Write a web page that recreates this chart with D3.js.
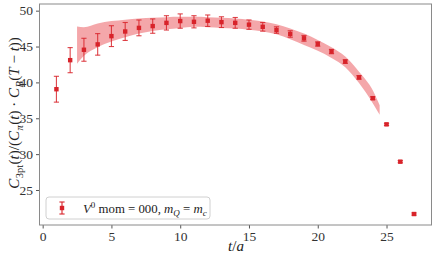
<!DOCTYPE html>
<html lang="en">
<head>
<meta charset="UTF-8">
<title>C3pt ratio</title>
<style>
  body { margin: 0; background: #fff; }
  svg { display: block; font-family: "Liberation Serif", "DejaVu Serif", serif; }
</style>
</head>
<body>
<svg id="chart" width="436" height="261"></svg>
<script src="https://d3js.org/d3.v7.min.js"></script>
<script>
// data points
const tVals = d3.range(1, 28);
const ratio = [39.05, 43.1, 44.55, 45.3, 46.45, 47.1, 47.6, 47.85, 48.3, 48.55, 48.45, 48.6, 48.4, 48.3,
               48.05, 47.75, 47.3, 46.75, 46.15, 45.35, 44.3, 42.9, 40.7, 37.8, 34.15, 28.95, 21.65];
const ratioErr = [1.8, 1.75, 1.6, 1.5, 1.45, 1.25, 1.1, 1.0, 1.0, 1.0, 0.85, 0.8, 0.75, 0.75,
                  0.65, 0.6, 0.45, 0.45, 0.4, 0.3, 0.3, 0.25, 0.25, 0.2, 0.15, 0.15, 0.15];

// fit band
const bandT  = [2.5, 3, 4, 5, 6, 7, 8, 9, 10, 11, 12, 13, 14, 15, 16, 17, 18, 19, 20, 21, 22, 23, 24, 24.5];
const bandHi = [47.8, 47.7, 48.2, 48.55, 48.75, 48.9, 49.0, 49.1, 49.15, 49.15, 49.1, 49.0, 48.9, 48.75,
                48.5, 48.1, 47.5, 46.8, 45.9, 44.9, 43.6, 41.5, 38.9, 36.8];
const bandLo = [42.6, 43.7, 44.9, 45.7, 46.3, 46.8, 47.15, 47.4, 47.6, 47.75, 47.7, 47.6, 47.5, 47.35,
                47.1, 46.7, 46.0, 45.2, 44.4, 43.4, 42.1, 39.9, 37.1, 35.5];

const xTicks = [0, 5, 10, 15, 20, 25];
const yTicks = [25, 30, 35, 40, 45, 50];

const red = "#d8232a";
const serif = "'Liberation Serif', 'DejaVu Serif', serif";
const svg = d3.select("#chart");

const x = d3.scaleLinear().domain([-0.23, 28.27]).range([39.5, 431.5]);
const y = d3.scaleLinear().domain([20.12, 50.93]).range([225, 4]);

// band
const band = bandT.map((t, i) => ({ t, lo: bandLo[i], hi: bandHi[i] }));
svg.append("path")
    .datum(band)
    .attr("fill", "#e3242b")
    .attr("fill-opacity", 0.4)
    .attr("d", d3.area().curve(d3.curveMonotoneX)
        .x(d => x(d.t)).y0(d => y(d.lo)).y1(d => y(d.hi)));

// error bars
const pts = tVals.map((t, i) => ({ t, v: ratio[i], e: ratioErr[i] }));
const eb = svg.append("g").attr("stroke", red).attr("stroke-width", 1.1).attr("stroke-opacity", 0.85);
eb.selectAll("line.v").data(pts).join("line")
    .attr("x1", d => x(d.t)).attr("x2", d => x(d.t))
    .attr("y1", d => y(d.v - d.e)).attr("y2", d => y(d.v + d.e));
eb.selectAll("line.top").data(pts).join("line")
    .attr("x1", d => x(d.t) - 2.6).attr("x2", d => x(d.t) + 2.6)
    .attr("y1", d => y(d.v + d.e)).attr("y2", d => y(d.v + d.e));
eb.selectAll("line.bot").data(pts).join("line")
    .attr("x1", d => x(d.t) - 2.6).attr("x2", d => x(d.t) + 2.6)
    .attr("y1", d => y(d.v - d.e)).attr("y2", d => y(d.v - d.e));

svg.append("g").selectAll("rect").data(pts).join("rect")
    .attr("x", d => x(d.t) - 2.2).attr("y", d => y(d.v) - 2.2)
    .attr("width", 4.4).attr("height", 4.4)
    .attr("fill", red);

// axes
const xAxis = svg.append("g").attr("transform", "translate(0,225)")
    .call(d3.axisBottom(x).tickValues(xTicks).tickSize(3.5).tickPadding(3));
const yAxis = svg.append("g").attr("transform", "translate(39.5,0)")
    .call(d3.axisLeft(y).tickValues(yTicks).tickSize(3.5).tickPadding(3));
[xAxis, yAxis].forEach(a => {
    a.attr("font-family", serif).attr("font-size", 13.5);
    a.select(".domain").remove();
    a.selectAll(".tick line").attr("stroke", "#555");
    a.selectAll(".tick text").attr("fill", "#333");
});

// frame
svg.append("rect").attr("x", 39.5).attr("y", 4).attr("width", 392).attr("height", 221)
    .attr("fill", "none").attr("stroke", "#8a8a8a").attr("stroke-width", 1);

// axis labels
const xl = svg.append("text").attr("x", 236).attr("y", 251).attr("text-anchor", "middle")
    .attr("font-size", 15).attr("fill", "#222");
xl.append("tspan").attr("font-style", "italic").text("t");
xl.append("tspan").text("/");
xl.append("tspan").attr("font-style", "italic").text("a");

const yl = svg.append("text")
    .attr("transform", "translate(19,113) rotate(-90)")
    .attr("text-anchor", "middle").attr("font-size", 15).attr("fill", "#222");
const parts = [
    ["C", "i"], ["3pt", "sub"], ["(", "n0"], ["t", "i"], [")/(", "n"], ["C", "i"], ["π", "subi"],
    ["(", "n0"], ["t", "i"], [") · ", "n"], ["C", "i"], ["B", "subi"], ["(", "n0"], ["T", "i"],
    [" − ", "n"], ["t", "i"], ["))", "n"]
];
let shifted = false;
parts.forEach(([s, k]) => {
    const ts = yl.append("tspan").text(s);
    if (k === "i") ts.attr("font-style", "italic");
    if (k === "sub" || k === "subi") {
        ts.attr("font-size", 10.5).attr("dy", 3.5).attr("dx", 0.5);
        if (k === "subi") ts.attr("font-style", "italic");
        shifted = true;
    } else if (shifted) {
        ts.attr("dy", -3.5).attr("dx", 0.5);
        shifted = false;
    }
});

// legend
const lg = svg.append("g");
lg.append("rect").attr("x", 46).attr("y", 197).attr("width", 164).attr("height", 22).attr("rx", 3)
    .attr("fill", "#fff").attr("fill-opacity", 0.8).attr("stroke", "#d0d0d0");
lg.append("line").attr("x1", 62).attr("x2", 62).attr("y1", 202).attr("y2", 214)
    .attr("stroke", red).attr("stroke-width", 1.1);
[202, 214].forEach(v => lg.append("line").attr("x1", 59.4).attr("x2", 64.6)
    .attr("y1", v).attr("y2", v).attr("stroke", red).attr("stroke-width", 1.1));
lg.append("rect").attr("x", 59.8).attr("y", 205.8).attr("width", 4.4).attr("height", 4.4).attr("fill", red);

const lt = lg.append("text").attr("x", 83).attr("y", 212.5).attr("font-size", 12.8).attr("fill", "#222");
lt.append("tspan").attr("font-style", "italic").text("V");
lt.append("tspan").attr("font-size", 9).attr("dy", -5).text("0");
lt.append("tspan").attr("dy", 5).text(" mom = 000, ");
lt.append("tspan").attr("font-style", "italic").text("m");
lt.append("tspan").attr("font-style", "italic").attr("font-size", 9).attr("dy", 3).text("Q");
lt.append("tspan").attr("dy", -3).text(" = ");
lt.append("tspan").attr("font-style", "italic").text("m");
lt.append("tspan").attr("font-style", "italic").attr("font-size", 9).attr("dy", 3).text("c");
</script>
</body>
</html>
